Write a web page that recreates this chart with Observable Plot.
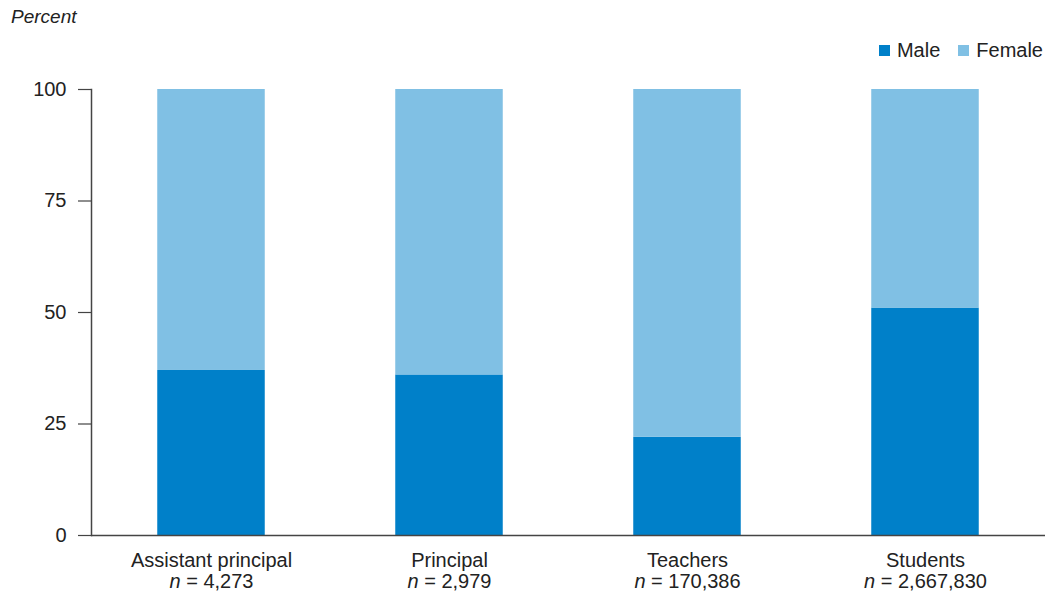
<!DOCTYPE html>
<html><head><meta charset="utf-8">
<script src="https://cdn.jsdelivr.net/npm/d3@7"></script>
<script src="https://cdn.jsdelivr.net/npm/@observablehq/plot@0.6"></script>
<style>
body{margin:0;background:#fff;font-family:"Liberation Sans",Arial,sans-serif;color:#222;}
#head{position:relative;height:70px;width:1045px;}
#ylab{position:absolute;left:11px;top:6px;font-size:19px;font-style:italic;color:#222;line-height:22px;}
#legend{position:absolute;right:2px;top:39px;font-size:20px;line-height:22px;display:flex;align-items:center;color:#222;}
#legend span.sw{display:inline-block;width:11px;height:11px;margin-right:7px;}
#legend span.it{display:flex;align-items:center;margin-left:18px;}
</style></head>
<body>
<div id="head"><div id="ylab">Percent</div><div id="legend"></div></div>
<div id="chart"></div>
<script>
const categories = ["Assistant principal", "Principal", "Teachers", "Students"];
const nLabels = ["4,273", "2,979", "170,386", "2,667,830"];
const series = ["Male", "Female"];
const colors = ["#0080c9", "#80c0e4"];
const male = [37, 36, 22, 51];
const female = [63, 64, 78, 49];
const yTicks = [0, 25, 50, 75, 100];

const data = [];
categories.forEach((c, i) => {
  data.push({category: c, sex: "Male", value: male[i]});
  data.push({category: c, sex: "Female", value: female[i]});
});

const leg = document.getElementById("legend");
series.forEach((s, i) => {
  const it = document.createElement("span");
  it.className = "it";
  it.innerHTML = `<span class="sw" style="background:${colors[i]}"></span>${s}`;
  leg.appendChild(it);
});

const nMap = new Map(categories.map((c, i) => [c, nLabels[i]]));

const chart = Plot.plot({
  width: 1045,
  height: 524,
  marginTop: 19,
  marginBottom: 59,
  marginLeft: 91,
  marginRight: 0,
  style: {fontFamily: '"Liberation Sans", Arial, sans-serif', fontSize: "20px", color: "#222", background: "#fff"},
  x: {domain: categories, padding: 0, label: null},
  y: {domain: [0, 100], label: null},
  color: {domain: series, range: colors},
  marks: [
    Plot.barY(data, {x: "category", y: "value", fill: "sex", insetLeft: 65.25, insetRight: 65.25}),
    Plot.axisY({ticks: yTicks, tickSize: 13, tickPadding: 12, fontSize: 20, stroke: "#444", strokeWidth: 1.2, fill: "#222", label: null}),
    Plot.axisX({tickSize: 0, tickPadding: 17, fontSize: 20, lineHeight: 1.05, fill: "#222", label: null,
      tickFormat: d => d + "\nn = " + nMap.get(d)}),
    Plot.ruleY([0], {stroke: "#444", strokeWidth: 1.5}),
    Plot.frame({anchor: "left", stroke: "#444", strokeWidth: 1.5})
  ]
});
document.getElementById("chart").appendChild(chart);

// italicize the "n" in the second line of the x tick labels
chart.querySelectorAll("tspan").forEach(t => {
  const s = t.textContent;
  if (s.startsWith("n = ")) {
    t.textContent = "";
    const it = document.createElementNS("http://www.w3.org/2000/svg", "tspan");
    it.setAttribute("font-style", "italic");
    it.textContent = "n";
    t.appendChild(it);
    t.appendChild(document.createTextNode(s.slice(1)));
  }
});
</script>
</body></html>
